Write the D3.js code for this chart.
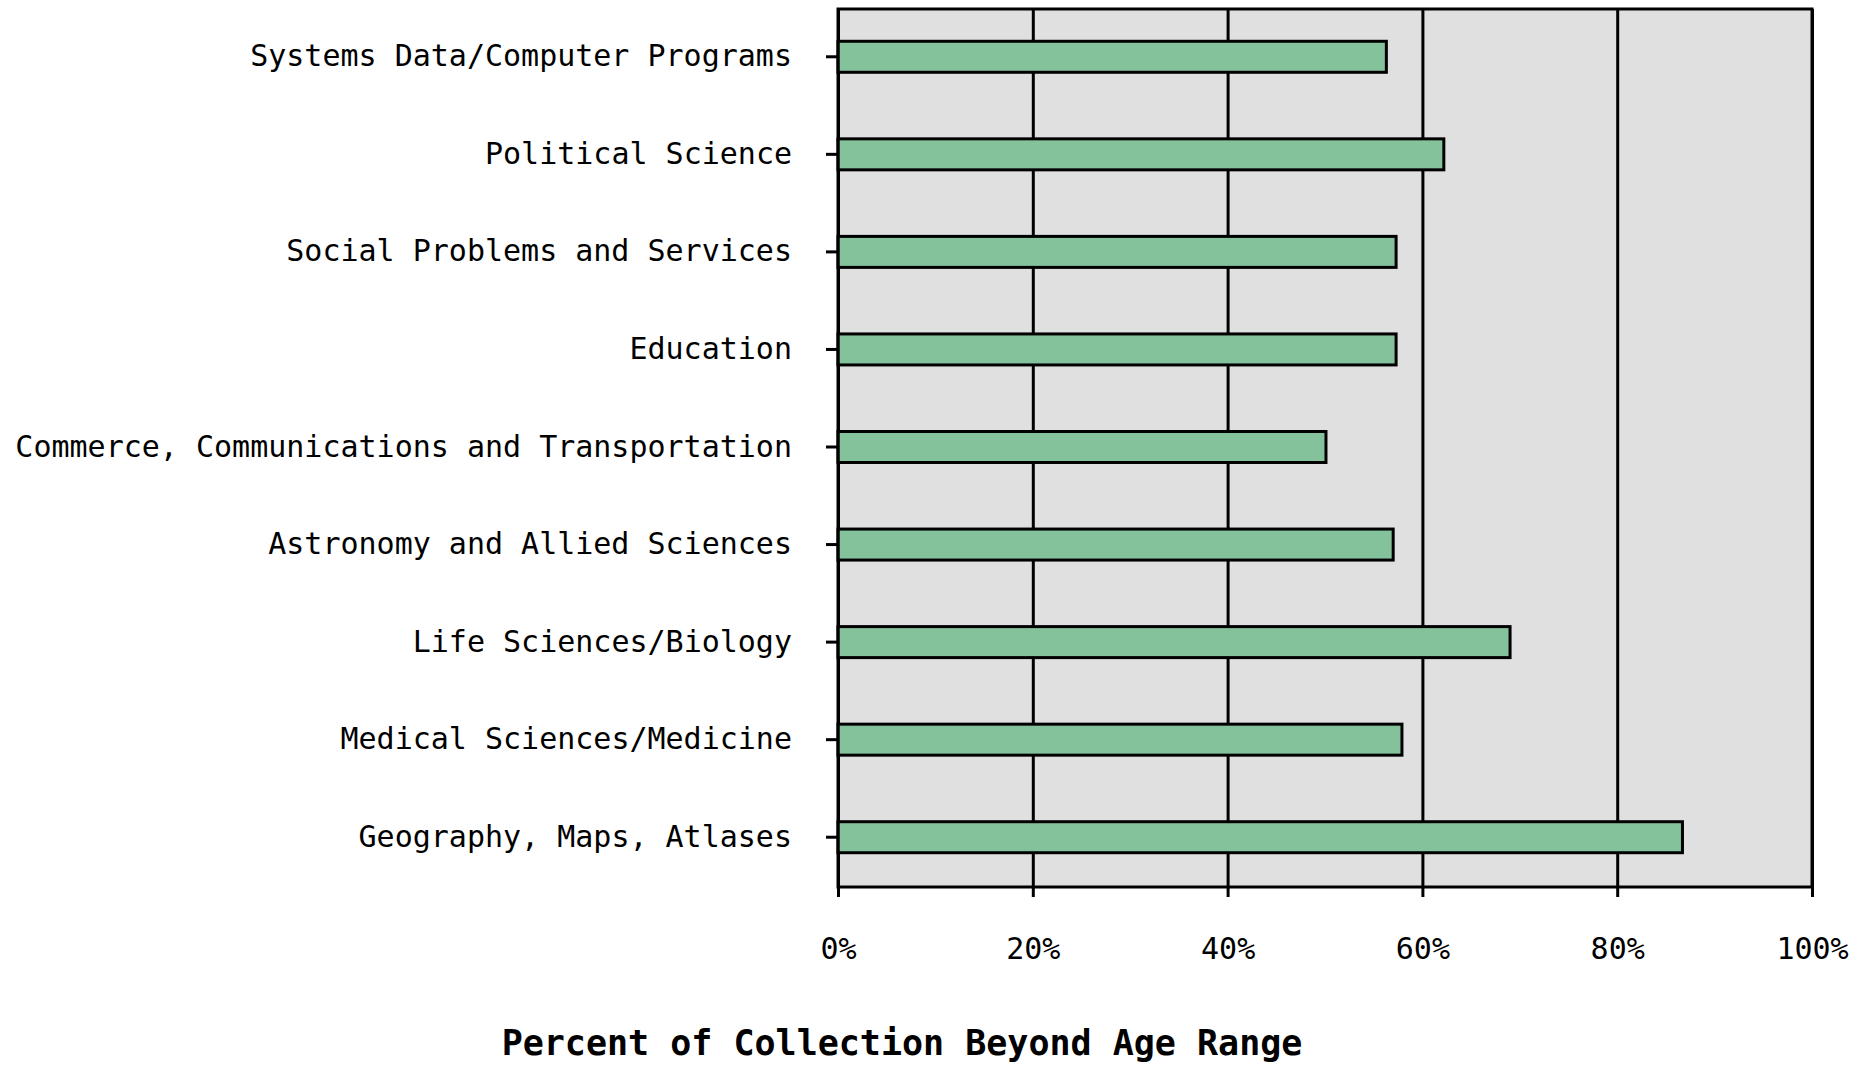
<!DOCTYPE html>
<html>
<head>
<meta charset="utf-8">
<script src="https://cdn.jsdelivr.net/npm/d3@7"></script>
<style>
	body { margin: 0; background: #fff; }
	svg text { font-family: "DejaVu Sans Mono", "Liberation Mono", monospace; fill: #000; }
	.axis path.domain { display: none; }
	.axis line { stroke: #000; stroke-width: 3px; }
	.grid line { stroke: #000; stroke-width: 3px; }
	.grid path.domain { display: none; }
</style>
</head>
<body>
<div id="chart"></div>
<script>
// data
var categories = [
	"Systems Data/Computer Programs",
	"Political Science",
	"Social Problems and Services",
	"Education",
	"Commerce, Communications and Transportation",
	"Astronomy and Allied Sciences",
	"Life Sciences/Biology",
	"Medical Sciences/Medicine",
	"Geography, Maps, Atlases"
];
var values = [56.3, 62.2, 57.3, 57.3, 50.1, 57.0, 69.0, 57.9, 86.7];
var tickValues = [0, 20, 40, 60, 80, 100];
var axisTitle = "Percent of Collection Beyond Age Range";

var options = {
	width: 1867,
	height: 1066,
	plot: { left: 838, right: 1812, top: 9, bottom: 887 },
	barHeight: 31,
	fontSize: 30
};

var svg = d3.select('#chart').append('svg')
	.attr('width', options.width)
	.attr('height', options.height);

var x = d3.scaleLinear()
	.domain([0, 100])
	.range([options.plot.left, options.plot.right]);

var y = d3.scaleBand()
	.domain(categories)
	.range([options.plot.top, options.plot.bottom])
	.padding(0);

var plotH = options.plot.bottom - options.plot.top;

// background
svg.append('rect')
	.attr('x', x(0))
	.attr('y', options.plot.top)
	.attr('width', x(100) - x(0))
	.attr('height', plotH)
	.attr('fill', '#e0e0e0');

// gridlines
svg.append('g')
	.classed('grid', true)
	.attr('transform', 'translate(0,' + options.plot.bottom + ')')
	.call(d3.axisBottom(x).tickValues(tickValues).tickSize(-plotH).tickFormat(''));

// bars
svg.selectAll('rect.bar')
	.data(values)
	.enter().append('rect')
	.classed('bar', true)
	.attr('x', x(0))
	.attr('y', function (d, i) { return y(categories[i]) + (y.bandwidth() - options.barHeight) / 2 - 1; })
	.attr('width', function (d) { return x(d) - x(0); })
	.attr('height', options.barHeight)
	.attr('fill', '#84c29c')
	.attr('stroke', '#000')
	.attr('stroke-width', 3);

// frame
svg.append('rect')
	.attr('x', x(0))
	.attr('y', options.plot.top)
	.attr('width', x(100) - x(0))
	.attr('height', plotH)
	.attr('fill', 'none')
	.attr('stroke', '#000')
	.attr('stroke-width', 3);

// x axis
var xAxis = svg.append('g')
	.classed('axis', true)
	.attr('transform', 'translate(0,' + options.plot.bottom + ')')
	.call(d3.axisBottom(x).tickValues(tickValues).tickSize(10).tickPadding(41)
		.tickFormat(function (d) { return d + '%'; }));
xAxis.selectAll('text')
	.style('font-size', options.fontSize + 'px');

// y axis
var yAxis = svg.append('g')
	.classed('axis', true)
	.attr('transform', 'translate(' + options.plot.left + ',-1)')
	.call(d3.axisLeft(y).tickSize(12).tickPadding(34));
yAxis.selectAll('text')
	.style('font-size', options.fontSize + 'px');

// axis title
svg.append('text')
	.attr('x', 902)
	.attr('y', 1055)
	.attr('text-anchor', 'middle')
	.style('font-size', '35px')
	.style('font-weight', 'bold')
	.text(axisTitle);
</script>
</body>
</html>
